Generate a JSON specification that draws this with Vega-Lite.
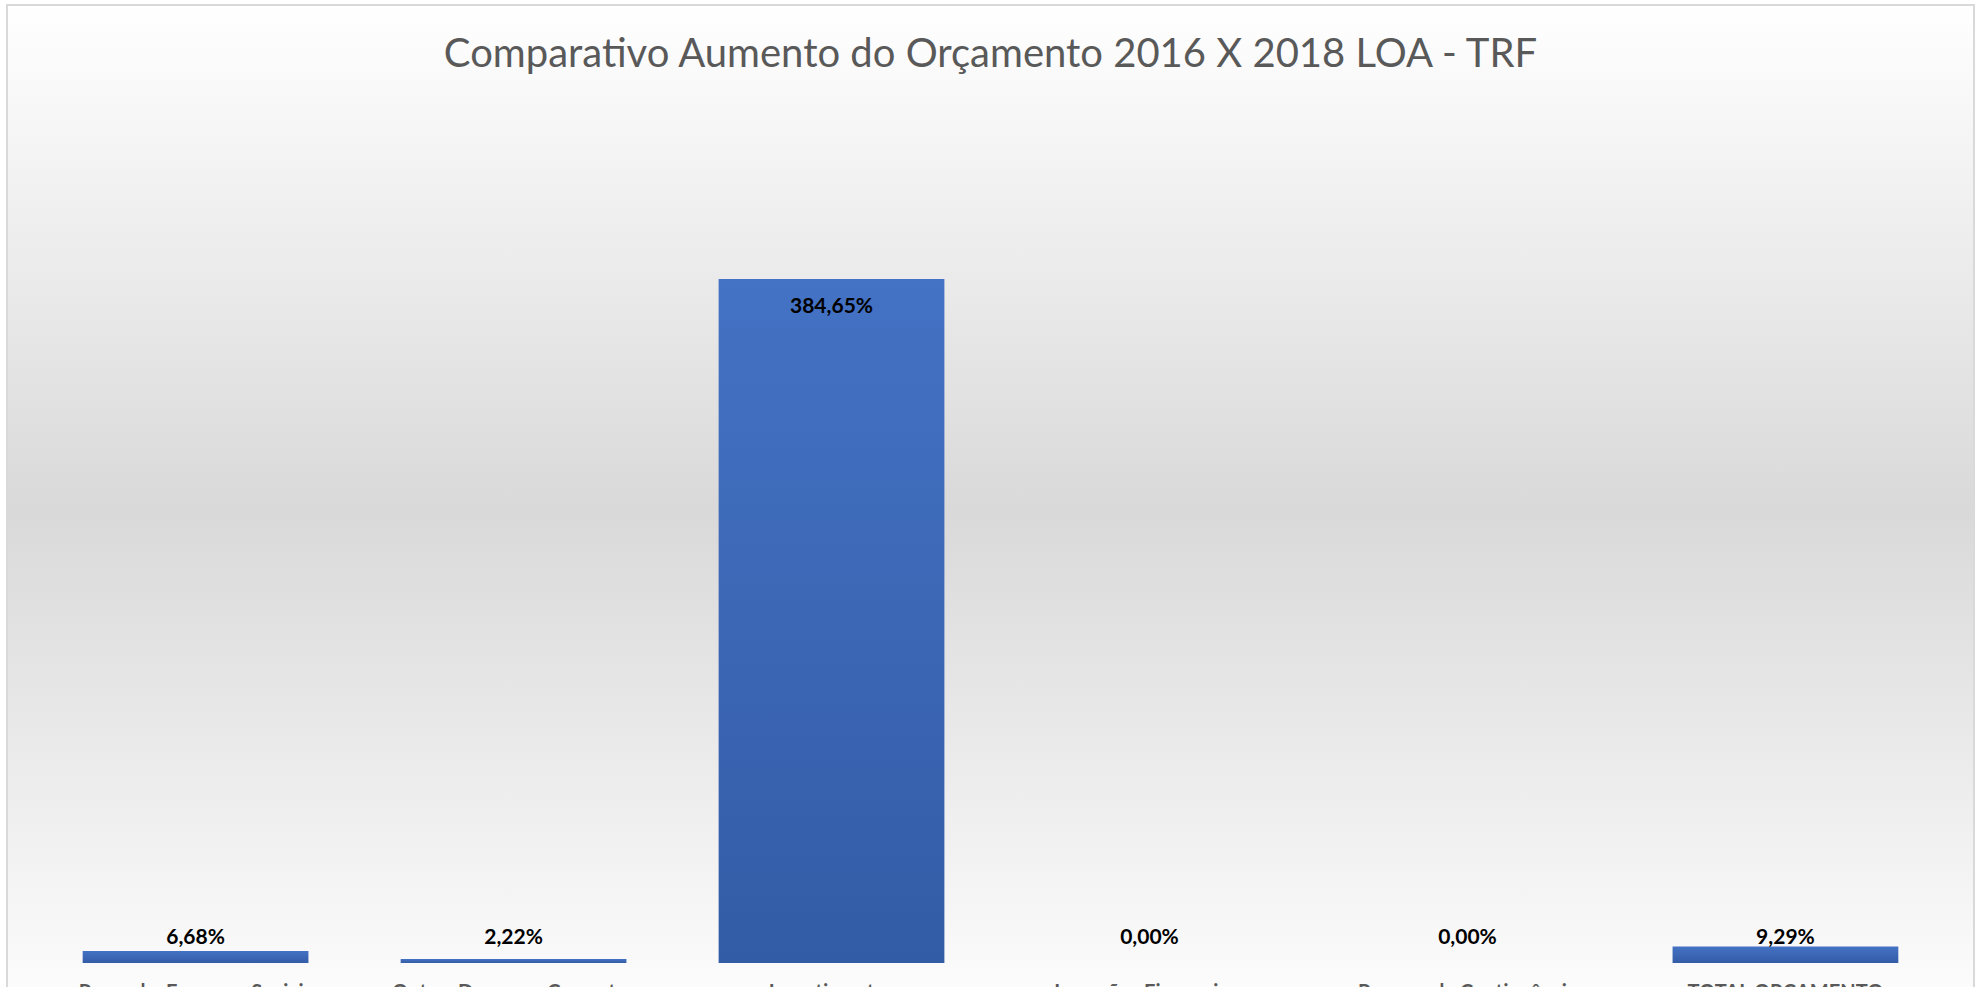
{
  "$schema": "https://vega.github.io/schema/vega-lite/v6.json",
  "autosize": {"type": "none"},
  "width": 1967,
  "height": 990,
  "padding": {"left": 7, "top": 5, "right": 9, "bottom": 0},
  "background": "#ffffff",
  "config": {
    "view": {
      "stroke": "#d9d9d9",
      "strokeWidth": 2,
      "fill": {
        "gradient": "linear",
        "x1": 0, "y1": 0, "x2": 0, "y2": 1,
        "stops": [
          {"offset": 0, "color": "#ffffff"},
          {"offset": 0.51, "color": "#d9d9d9"},
          {"offset": 1, "color": "#fcfcfc"}
        ]
      }
    },
    "font": "Lato"
  },
  "title": {
    "text": "Comparativo Aumento do Orçamento 2016 X 2018 LOA - TRF",
    "font": "Lato",
    "fontSize": 40,
    "fontWeight": "normal",
    "color": "#595959",
    "anchor": "middle",
    "frame": "group",
    "baseline": "alphabetic",
    "offset": 0,
    "dy": 102
  },
  "data": {
    "values": [
      {"categoria": "Pessoal e Encargos Sociais", "aumento": 6.68, "rotulo": "6,68%"},
      {"categoria": "Outras Despesas Correntes", "aumento": 2.22, "rotulo": "2,22%"},
      {"categoria": "Investimentos", "aumento": 384.65, "rotulo": "384,65%"},
      {"categoria": "Inversões Financeiras", "aumento": 0.0, "rotulo": "0,00%"},
      {"categoria": "Reserva de Contingência", "aumento": 0.0, "rotulo": "0,00%"},
      {"categoria": "TOTAL ORÇAMENTO", "aumento": 9.29, "rotulo": "9,29%"}
    ]
  },
  "encoding": {
    "x": {
      "field": "categoria",
      "type": "nominal",
      "sort": null,
      "scale": {"paddingInner": 0.29, "paddingOuter": 0.238},
      "axis": {
        "title": null,
        "domain": false,
        "ticks": false,
        "labelAngle": 0,
        "labelBaseline": "top",
        "labelPadding": 0,
        "offset": -13,
        "labelFont": "Lato",
        "labelFontSize": 20,
        "labelFontWeight": "bold",
        "labelColor": "#595959",
        "labelLimit": 400
      }
    }
  },
  "layer": [
    {
      "mark": {
        "type": "bar",
        "fill": {
          "gradient": "linear",
          "x1": 0, "y1": 0, "x2": 0, "y2": 1,
          "stops": [
            {"offset": 0, "color": "#4472c4"},
            {"offset": 1, "color": "#335ca6"}
          ]
        }
      },
      "encoding": {
        "y": {
          "field": "aumento",
          "type": "quantitative",
          "scale": {"domain": [-18, 538.8], "nice": false, "zero": false},
          "axis": null
        },
        "y2": {"datum": 0}
      }
    },
    {
      "transform": [{"filter": "datum.aumento > 100"}],
      "mark": {"type": "text", "baseline": "middle", "dy": 28, "font": "Lato", "fontSize": 21, "fontWeight": "bold", "color": "#000000"},
      "encoding": {
        "y": {"field": "aumento", "type": "quantitative"},
        "text": {"field": "rotulo"}
      }
    },
    {
      "transform": [{"filter": "datum.aumento <= 100"}],
      "mark": {"type": "text", "baseline": "middle", "dy": -25, "font": "Lato", "fontSize": 21, "fontWeight": "bold", "color": "#000000"},
      "encoding": {
        "y": {"datum": 0, "type": "quantitative"},
        "text": {"field": "rotulo"}
      }
    }
  ]
}
